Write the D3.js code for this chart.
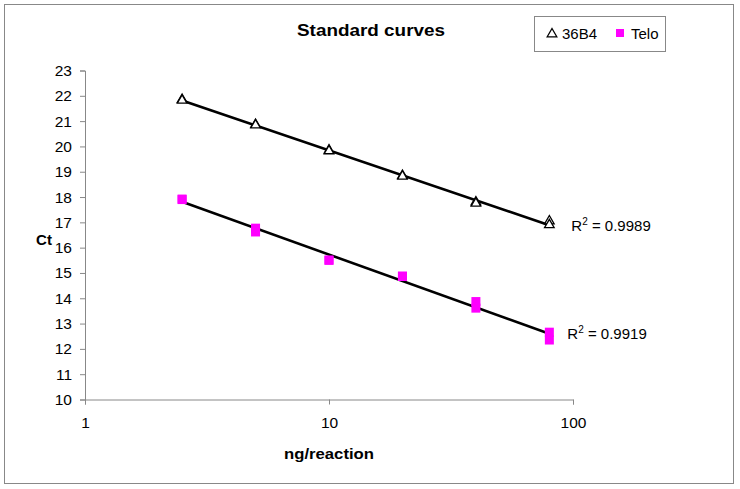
<!DOCTYPE html>
<html><head><meta charset="utf-8">
<script src="https://cdn.jsdelivr.net/npm/d3@7"></script>
<style>body{margin:0;background:#fff}svg{display:block}text{font-family:"Liberation Sans",Arial,sans-serif}</style>
</head><body>
<script>
const concentrations = [2.5, 2.5, 5, 5, 10, 10, 20, 20, 40, 40, 80, 80];
const ct36B4 = [21.85, 21.82, 20.86, 20.84, 19.85, 19.82, 18.85, 18.82, 17.8, 17.75, 17.05, 16.9];
const ctTelo = [17.92, 17.9, 16.77, 16.62, 15.51, 15.5, 14.88, 14.86, 13.87, 13.61, 12.66, 12.35];
const r2Labels = ["0.9989", "0.9919"];
const xTicks = [1, 10, 100];
const yTicks = [10, 11, 12, 13, 14, 15, 16, 17, 18, 19, 20, 21, 22, 23];
const seriesNames = ["36B4", "Telo"];

const W = 740, H = 489;
const FONT = '"Liberation Sans",Arial,sans-serif';
const svg = d3.select("body").append("svg").attr("width", W).attr("height", H);
svg.append("rect").attr("x", 4.5).attr("y", 4.5).attr("width", 729).attr("height", 479)
  .attr("fill", "#fff").attr("stroke", "#888").attr("stroke-width", 1);

const x = d3.scaleLog().domain([1, 100]).range([85, 573]);
const y = d3.scaleLinear().domain([10, 23]).range([399.5, 70.5]);

// axes
const xAxis = d3.axisBottom(x).tickValues(xTicks).tickFormat(d3.format("d")).tickSize(5).tickPadding(10);
const yAxis = d3.axisLeft(y).tickValues(yTicks).tickSize(5).tickPadding(8);
const gx = svg.append("g").attr("transform", `translate(0,${y(10)})`).call(xAxis);
const gy = svg.append("g").attr("transform", `translate(${x(1)},0)`).call(yAxis);
[gx, gy].forEach(g => {
  g.select(".domain").attr("stroke", "#888");
  g.selectAll(".tick line").attr("stroke", "#888");
  g.selectAll(".tick text").attr("font-size", 15.5).attr("fill", "#000").style("font-family", FONT);
});
gx.selectAll(".tick text").attr("dy", "0.85em");

// regression fit in log10(x)
function fit(xs, ys) {
  const lx = xs.map(Math.log10);
  const mx = d3.mean(lx), my = d3.mean(ys);
  let sxy = 0, sxx = 0;
  lx.forEach((v, i) => { sxy += (v - mx) * (ys[i] - my); sxx += (v - mx) ** 2; });
  const b = sxy / sxx, a = my - b * mx;
  return v => a + b * Math.log10(v);
}
const xmin = d3.min(concentrations), xmax = d3.max(concentrations);
[ct36B4, ctTelo].forEach(ys => {
  const f = fit(concentrations, ys);
  svg.append("line").attr("x1", x(xmin)).attr("y1", y(f(xmin)))
    .attr("x2", x(xmax)).attr("y2", y(f(xmax)))
    .attr("stroke", "#000").attr("stroke-width", 2.6);
});

// markers
const tri = d3.symbol().type(d3.symbolTriangle).size(40);
svg.append("g").selectAll("path").data(concentrations.map((c, i) => [c, ct36B4[i]])).join("path")
  .attr("d", tri).attr("transform", d => `translate(${x(d[0])},${y(d[1])})`)
  .attr("fill", "#fff").attr("stroke", "#000").attr("stroke-width", 1.3);
svg.append("g").selectAll("rect").data(concentrations.map((c, i) => [c, ctTelo[i]])).join("rect")
  .attr("x", d => x(d[0]) - 4.5).attr("y", d => y(d[1]) - 4.5).attr("width", 9).attr("height", 9)
  .attr("fill", "#ff00ff");

// R² labels
const r2Pos = [[x(xmax) + 22, y(16.9) + 6], [x(xmax) + 18, y(12.66) + 7]];
r2Labels.forEach((t, i) => {
  const txt = svg.append("text").attr("x", r2Pos[i][0]).attr("y", r2Pos[i][1]).attr("font-size", 15);
  txt.append("tspan").text("R");
  txt.append("tspan").text("2").attr("font-size", 10).attr("dy", -6);
  txt.append("tspan").text(" = " + t).attr("dy", 6);
});

// titles
svg.append("text").attr("x", 371).attr("y", 36).attr("text-anchor", "middle")
  .attr("font-size", 17).attr("font-weight", "bold")
  .attr("textLength", 148).attr("lengthAdjust", "spacingAndGlyphs").text("Standard curves");
svg.append("text").attr("x", 44).attr("y", 245).attr("text-anchor", "middle")
  .attr("font-size", 15).attr("font-weight", "bold").text("Ct");
svg.append("text").attr("x", 329).attr("y", 459).attr("text-anchor", "middle")
  .attr("font-size", 15).attr("font-weight", "bold")
  .attr("textLength", 90).attr("lengthAdjust", "spacingAndGlyphs").text("ng/reaction");

// legend
const lg = svg.append("g");
lg.append("rect").attr("x", 534.5).attr("y", 16.5).attr("width", 131).attr("height", 35)
  .attr("fill", "#fff").attr("stroke", "#888");
lg.append("path").attr("d", tri).attr("transform", "translate(552,34)")
  .attr("fill", "#fff").attr("stroke", "#000").attr("stroke-width", 1.3);
lg.append("text").attr("x", 562).attr("y", 39).attr("font-size", 15).text(seriesNames[0]);
lg.append("rect").attr("x", 616).attr("y", 29).attr("width", 8).attr("height", 8).attr("fill", "#ff00ff");
lg.append("text").attr("x", 631).attr("y", 39).attr("font-size", 15).text(seriesNames[1]);
</script>
</body></html>
